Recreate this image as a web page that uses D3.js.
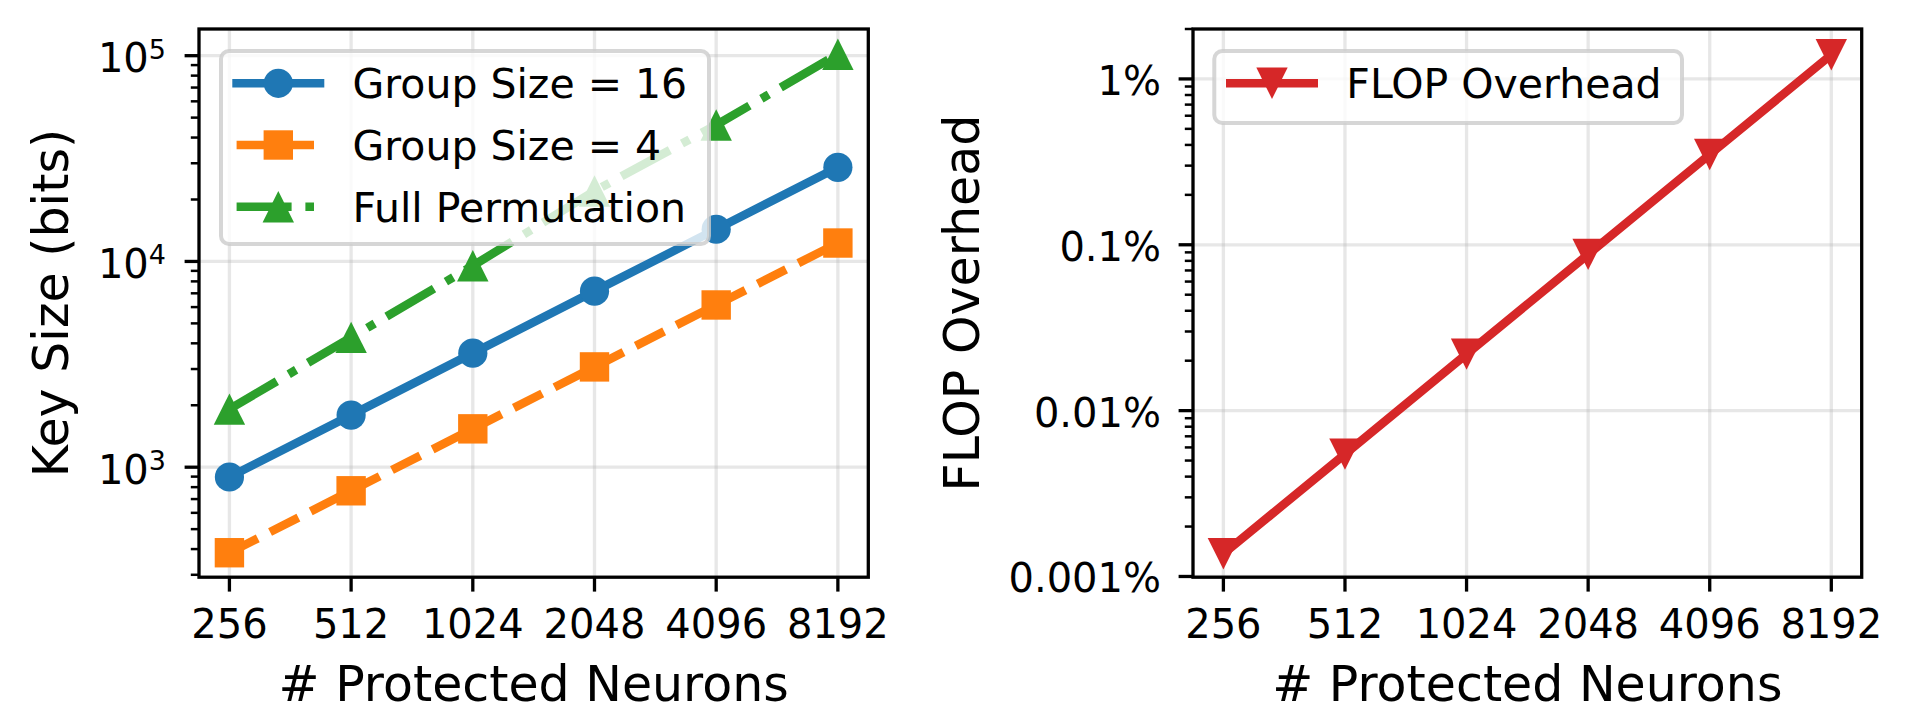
<!DOCTYPE html>
<html><head><meta charset="utf-8">
<script src="https://cdn.jsdelivr.net/npm/d3@7"></script>
<style>body{margin:0;background:#fff} text{font-family:"DejaVu Sans",sans-serif;fill:#000}</style>
</head><body><svg id="c" width="1914" height="703"></svg>
<script>
// ---------------- data ----------------
const neurons = [256, 512, 1024, 2048, 4096, 8192];
const xTickLabels = ["256", "512", "1024", "2048", "4096", "8192"];
const group16 = [896, 1792, 3584, 7168, 14336, 28672];
const group4 = [384, 768, 1536, 3072, 6144, 12288];
const fullPerm = [1916, 4273, 9530, 22000, 46060, 101600];
const flopOverhead = [0.00137, 0.00547, 0.0219, 0.0875, 0.350, 1.40]; // percent
const keyMajorTicks = [1e3, 1e4, 1e5];
const keyMajorExp = ["3", "4", "5"];
const flopMajorTicks = [0.001, 0.01, 0.1, 1];
const flopTickLabels = ["0.001%", "0.01%", "0.1%", "1%"];
const seriesNames = ["Group Size = 16", "Group Size = 4", "Full Permutation"];
const flopName = "FLOP Overhead";
const xLabel = "# Protected Neurons";
const yLabelLeft = "Key Size (bits)";
const yLabelRight = "FLOP Overhead";
const xLimits = [215.27, 9741.9];
const keyLimits = [292, 134800];
const flopLimits = [0.00099, 2.0];

// ---------------- setup ----------------
const svg = d3.select("#c");
svg.append("rect").attr("width", 1914).attr("height", 703).attr("fill", "#fff");

const TOP = 29, BOTTOM = 577.2;
const LW = 8.6;
const C_BLUE = "#1f77b4", C_ORANGE = "#ff7f0e", C_GREEN = "#2ca02c", C_RED = "#d62728";

function triUp(cx, cy, h) { return `M${cx},${cy - h}L${cx + h},${cy + h}L${cx - h},${cy + h}Z`; }
function triDown(cx, cy, h) { return `M${cx},${cy + h}L${cx + h},${cy - h}L${cx - h},${cy - h}Z`; }

function drawMarker(g, type, cx, cy, color) {
  if (type === "circle") g.append("circle").attr("cx", cx).attr("cy", cy).attr("r", 14.6).attr("fill", color);
  else if (type === "square") g.append("rect").attr("x", cx - 14.7).attr("y", cy - 14.7).attr("width", 29.4).attr("height", 29.4).attr("fill", color);
  else if (type === "triUp") g.append("path").attr("d", triUp(cx, cy, 15.7)).attr("fill", color);
  else if (type === "triDown") g.append("path").attr("d", triDown(cx, cy, 15.7)).attr("fill", color);
}

function panel(opts) {
  const { left, right, yDomain, id } = opts;
  const x = d3.scaleLog().base(2).domain(xLimits).range([left, right]);
  const y = d3.scaleLog().domain(yDomain).range([BOTTOM, TOP]);
  const g = svg.append("g");

  svg.append("clipPath").attr("id", id).append("rect")
    .attr("x", left).attr("y", TOP).attr("width", right - left).attr("height", BOTTOM - TOP);

  // grid
  const grid = g.append("g").attr("stroke", "#b0b0b0").attr("stroke-opacity", 0.3).attr("stroke-width", 3.3);
  neurons.forEach(n => grid.append("line").attr("x1", x(n)).attr("x2", x(n)).attr("y1", TOP).attr("y2", BOTTOM));
  opts.majors.forEach(v => grid.append("line").attr("x1", left).attr("x2", right).attr("y1", y(v)).attr("y2", y(v)));

  // data
  const dg = g.append("g").attr("clip-path", `url(#${id})`);
  opts.series.forEach(s => {
    const line = d3.line().x((d, i) => x(neurons[i])).y(d => y(d));
    dg.append("path").attr("d", line(s.values)).attr("fill", "none").attr("stroke", s.color)
      .attr("stroke-width", LW).attr("stroke-dasharray", s.dash || null)
      .attr("stroke-linecap", s.dash ? "butt" : "square").attr("stroke-linejoin", "round");
    s.values.forEach((v, i) => drawMarker(dg, s.marker, x(neurons[i]), y(v), s.color));
  });

  // spines
  g.append("rect").attr("x", left).attr("y", TOP).attr("width", right - left).attr("height", BOTTOM - TOP)
    .attr("fill", "none").attr("stroke", "#000").attr("stroke-width", 3.3);

  // x ticks
  neurons.forEach((n, i) => {
    g.append("line").attr("x1", x(n)).attr("x2", x(n)).attr("y1", BOTTOM).attr("y2", BOTTOM + 14.4)
      .attr("stroke", "#000").attr("stroke-width", 3.3);
    g.append("text").attr("x", x(n)).attr("y", 638.3).attr("text-anchor", "middle")
      .attr("font-size", 40).text(xTickLabels[i]);
  });

  // y ticks (minor from the scale's own ticks)
  const majorSet = new Set(opts.majors.map(v => +v.toPrecision(6)));
  y.ticks().forEach(v => {
    const [lo, hi] = yDomain;
    if (v < lo || v > hi * 1.0001) return;
    if (majorSet.has(+v.toPrecision(6))) return;
    g.append("line").attr("x1", left - 8.2).attr("x2", left).attr("y1", y(v)).attr("y2", y(v))
      .attr("stroke", "#000").attr("stroke-width", 2.5);
  });
  opts.majors.forEach((v, i) => {
    g.append("line").attr("x1", left - 14.4).attr("x2", left).attr("y1", y(v)).attr("y2", y(v))
      .attr("stroke", "#000").attr("stroke-width", 3.3);
    opts.tickLabel(g, i, y(v));
  });

  // axis labels
  g.append("text").attr("x", (left + right) / 2).attr("y", 700.5).attr("text-anchor", "middle")
    .attr("font-size", 49).text(xLabel);
  g.append("text").attr("transform", `translate(${opts.ylabelX},${(TOP + BOTTOM) / 2}) rotate(-90)`)
    .attr("text-anchor", "middle").attr("font-size", 49).text(opts.ylabel);

  // legend
  const L = opts.legend;
  const lg = g.append("g");
  lg.append("rect").attr("x", L.x).attr("y", L.y).attr("width", L.w).attr("height", L.h).attr("rx", 8)
    .attr("fill", "#fff").attr("fill-opacity", 0.8).attr("stroke", "#cccccc").attr("stroke-opacity", 0.8).attr("stroke-width", 4);
  opts.series.forEach((s, i) => {
    const cy = L.row0 + i * 61.7;
    lg.append("line").attr("x1", L.hx).attr("x2", L.hx + 83.4).attr("y1", cy).attr("y2", cy)
      .attr("stroke", s.color).attr("stroke-width", LW).attr("stroke-dasharray", s.dash || null)
      .attr("stroke-linecap", s.dash ? "butt" : "square");
    drawMarker(lg, s.marker, L.hx + 41.7, cy, s.color);
    lg.append("text").attr("x", L.hx + 83.4 + 32.6).attr("y", cy + 15).attr("font-size", 41).text(s.name);
  });
}

// ---------------- left panel ----------------
panel({
  id: "clipL", left: 199, right: 868.3, yDomain: keyLimits, majors: keyMajorTicks,
  ylabel: yLabelLeft, ylabelX: 68,
  series: [
    { name: seriesNames[0], values: group16, color: C_BLUE, marker: "circle" },
    { name: seriesNames[1], values: group4, color: C_ORANGE, marker: "square", dash: "31.8,13.8" },
    { name: seriesNames[2], values: fullPerm, color: C_GREEN, marker: "triUp", dash: "55,13.8,8.6,13.8" }
  ],
  tickLabel: (g, i, yy) => {
    const t = g.append("text").attr("x", 166).attr("y", yy + 16.4).attr("text-anchor", "end").attr("font-size", 40);
    t.append("tspan").text("10");
    t.append("tspan").attr("font-size", 27).attr("dy", -13.4).text(keyMajorExp[i]);
  },
  legend: { x: 221, y: 51, w: 488, h: 193, row0: 83.3, hx: 236.6 }
});

// ---------------- right panel ----------------
panel({
  id: "clipR", left: 1193, right: 1861.7, yDomain: flopLimits, majors: flopMajorTicks,
  ylabel: yLabelRight, ylabelX: 979,
  series: [
    { name: flopName, values: flopOverhead, color: C_RED, marker: "triDown" }
  ],
  tickLabel: (g, i, yy) => {
    g.append("text").attr("x", 1161).attr("y", yy + 16).attr("text-anchor", "end").attr("font-size", 40).text(flopTickLabels[i]);
  },
  legend: { x: 1214.3, y: 51, w: 467.7, h: 72, row0: 83.3, hx: 1230.3 }
});
</script></body></html>
